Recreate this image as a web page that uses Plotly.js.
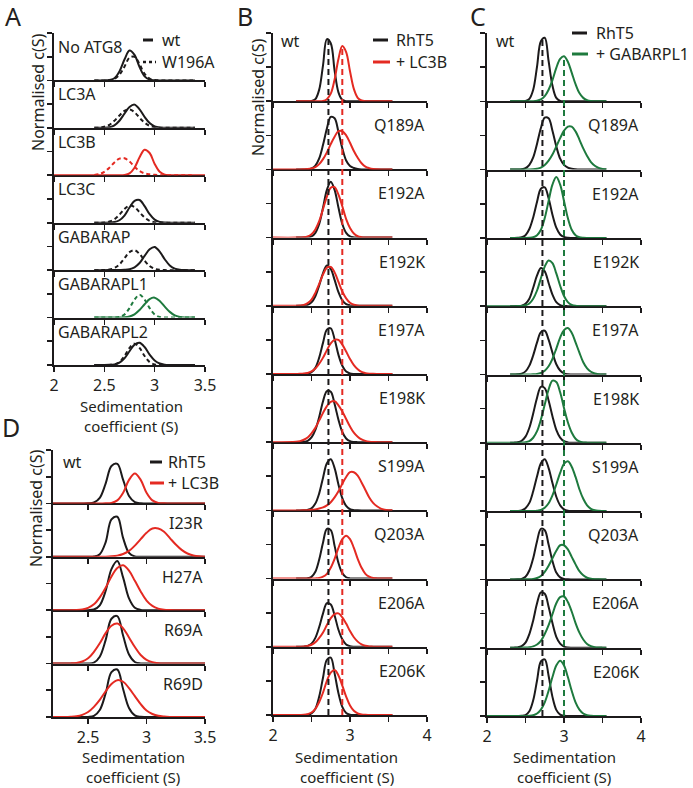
<!DOCTYPE html>
<html><head><meta charset="utf-8">
<script src="https://cdn.plot.ly/plotly-3.0.1.min.js"></script>
<style>html,body{margin:0;padding:0;background:#fff}#chart{width:693px;height:788px}</style>
</head><body><div id="chart"></div>
<script>
// ---------------- DATA ----------------
// sample positions (S)
const gridA = [2.0,2.40,2.45,2.50,2.55,2.60,2.65,2.70,2.75,2.80,2.85,2.90,2.95,3.00,3.05,3.10,3.15,3.20,3.25,3.30,3.35,3.40,3.5];
const gridBC = [2.0,2.30,2.35,2.40,2.45,2.50,2.55,2.60,2.65,2.70,2.75,2.80,2.85,2.90,2.95,3.00,3.05,3.10,3.15,3.20,3.25,3.30,3.35,3.40,3.45,3.50,3.55,4.0];
const gridD = [2.20,2.25,2.30,2.35,2.40,2.45,2.50,2.55,2.60,2.65,2.70,2.75,2.80,2.85,2.90,2.95,3.00,3.05,3.10,3.15,3.20,3.25,3.30,3.35,3.40,3.45,3.50];

// Panel A: wt (solid) and W196A (dashed), normalised c(S)
const labelsA = ['No ATG8','LC3A','LC3B','LC3C','GABARAP','GABARAPL1','GABARAPL2'];
const aWt1 = [null,0,0,0.001,0.007,0.047,0.19,0.44,0.63,0.54,0.28,0.086,0.016,0.002,0,0,0,0,0,0,0,0,null];
const aMu1 = [null,0,0,0.001,0.005,0.03,0.12,0.29,0.48,0.50,0.34,0.14,0.04,0.007,0.001,0,0,0,0,0,0,0,null];
const aWt2 = [null,0,0,0.003,0.014,0.053,0.15,0.30,0.44,0.49,0.39,0.23,0.10,0.032,0.007,0.001,0,0,0,0,0,0,null];
const aMu2 = [null,0.001,0.006,0.022,0.064,0.15,0.26,0.36,0.39,0.33,0.21,0.11,0.043,0.013,0.003,0.001,0,0,0,0,0,0,null];
const aWt3 = [0,0,0,0,0,0,0.001,0.006,0.04,0.16,0.38,0.54,0.47,0.24,0.074,0.014,0.002,0,0,0,0,0,0];
const aMu3 = [null,0.007,0.026,0.073,0.16,0.27,0.35,0.36,0.29,0.18,0.09,0.04,0.02,0.01,0.003,0,0,0,0,0,0,0,null];
const aWt4 = [null,0,0,0,0.002,0.013,0.052,0.15,0.32,0.46,0.48,0.35,0.18,0.066,0.017,0.003,0,0,0,0,0,0,null];
const aMu4 = [null,0,0.001,0.005,0.024,0.074,0.17,0.29,0.36,0.33,0.22,0.11,0.04,0.01,0.002,0,0,0,0,0,0,0,null];
const aWt5 = [null,0,0,0,0.001,0.003,0.005,0.008,0.02,0.06,0.15,0.30,0.44,0.49,0.39,0.23,0.10,0.032,0.007,0.001,0,0,null];
const aMu5 = [null,0,0,0.003,0.012,0.045,0.12,0.25,0.38,0.42,0.34,0.20,0.086,0.028,0.006,0.001,0,0,0,0,0,0,null];
const aWt6 = [null,0,0,0,0,0.001,0.001,0.006,0.024,0.069,0.16,0.28,0.39,0.42,0.35,0.23,0.12,0.046,0.014,0.003,0.001,0,null];
const aMu6 = [null,0,0,0,0,0.002,0.013,0.065,0.20,0.38,0.48,0.38,0.20,0.065,0.013,0.002,0,0,0,0,0,0,null];
const aWt7 = [null,0,0,0,0.003,0.013,0.05,0.14,0.29,0.43,0.47,0.38,0.22,0.096,0.031,0.007,0.001,0,0,0,0,0,null];
const aMu7 = [null,0,0,0,0.002,0.012,0.06,0.19,0.36,0.45,0.36,0.19,0.06,0.012,0.002,0,0,0,0,0,0,0,null];

// Panel B: RhT5 alone and + LC3B
const labelsB = ['wt','Q189A','E192A','E192K','E197A','E198K','S199A','Q203A','E206A','E206K'];
const bRh1 = [null,0,0,0,0,0.003,0.03,0.17,0.53,0.91,0.85,0.45,0.13,0.02,0,0,0,0,0,0,0,0,0,0,0,0,0,null];
const bLc1 = [null,0,0,0,0,0,0,0,0.004,0.03,0.11,0.32,0.62,0.81,0.72,0.44,0.18,0.05,0.01,0,0,0,0,0,0,0,0,null];
const bRh2 = [null,0,0,0,0.002,0.014,0.054,0.16,0.36,0.60,0.77,0.75,0.55,0.31,0.13,0.05,0.02,0.005,0,0,0,0,0,0,0,0,0,null];
const bLc2 = [0,0,0,0.002,0.005,0.014,0.035,0.077,0.15,0.25,0.37,0.48,0.56,0.56,0.50,0.39,0.27,0.17,0.09,0.04,0.018,0.006,0.002,0,0,0,0,null];
const bRh3 = [null,0,0,0,0.003,0.017,0.07,0.20,0.44,0.70,0.82,0.70,0.44,0.20,0.07,0.017,0.003,0,0,0,0,0,0,0,0,0,0,null];
const bLc3 = [0,0,0.002,0.005,0.017,0.05,0.12,0.24,0.42,0.60,0.73,0.74,0.63,0.46,0.27,0.14,0.06,0.02,0.007,0.002,0,0,0,0,0,0,0,null];
const bRh4 = [null,0,0,0.003,0.014,0.05,0.14,0.30,0.48,0.59,0.54,0.38,0.20,0.08,0.024,0.006,0.001,0,0,0,0,0,0,0,0,0,0,null];
const bLc4 = [0,0.001,0.004,0.013,0.04,0.09,0.19,0.32,0.46,0.56,0.57,0.49,0.35,0.21,0.11,0.046,0.016,0.005,0.001,0,0,0,0,0,0,0,0,null];
const bRh5 = [null,0,0,0.001,0.006,0.026,0.09,0.24,0.46,0.65,0.67,0.51,0.28,0.12,0.035,0.008,0.001,0,0,0,0,0,0,0,0,0,0,null];
const bLc5 = [0,0.001,0.002,0.006,0.016,0.037,0.08,0.15,0.24,0.35,0.45,0.50,0.50,0.43,0.33,0.22,0.13,0.07,0.03,0.013,0.005,0.002,0,0,0,0,0,null];
const bRh6 = [null,0,0.001,0.005,0.02,0.07,0.18,0.37,0.60,0.75,0.74,0.56,0.33,0.15,0.055,0.015,0.003,0.001,0,0,0,0,0,0,0,0,0,null];
const bLc6 = [0,0.007,0.016,0.036,0.07,0.13,0.21,0.32,0.43,0.53,0.59,0.60,0.54,0.45,0.34,0.23,0.14,0.08,0.04,0.019,0.008,0.003,0.001,0,0,0,0,null];
const bRh7 = [null,0,0,0.002,0.008,0.03,0.10,0.25,0.48,0.69,0.75,0.62,0.38,0.18,0.065,0.018,0.004,0.001,0,0,0,0,0,0,0,0,0,null];
const bLc7 = [0,0,0,0.002,0.004,0.008,0.015,0.027,0.045,0.075,0.12,0.19,0.28,0.39,0.49,0.56,0.56,0.51,0.41,0.30,0.19,0.11,0.06,0.027,0.011,0.004,0.001,null];
const bRh8 = [null,0,0,0.001,0.005,0.026,0.10,0.28,0.53,0.73,0.71,0.48,0.23,0.08,0.02,0.003,0,0,0,0,0,0,0,0,0,0,0,null];
const bLc8 = [0,0,0,0,0,0.001,0.003,0.009,0.028,0.07,0.16,0.29,0.45,0.58,0.63,0.58,0.45,0.29,0.16,0.07,0.028,0.009,0.003,0.001,0,0,0,null];
const bRh9 = [null,0,0,0.002,0.012,0.044,0.13,0.29,0.49,0.64,0.62,0.46,0.25,0.11,0.034,0.008,0.001,0,0,0,0,0,0,0,0,0,0,null];
const bLc9 = [0,0,0.001,0.004,0.012,0.03,0.066,0.13,0.21,0.32,0.42,0.48,0.49,0.43,0.34,0.23,0.14,0.076,0.036,0.015,0.005,0.002,0,0,0,0,0,null];
const bRh10 = [null,0,0,0.001,0.003,0.022,0.09,0.27,0.55,0.81,0.84,0.61,0.32,0.12,0.03,0.005,0.001,0,0,0,0,0,0,0,0,0,0,null];
const bLc10 = [0,0,0.001,0.003,0.012,0.036,0.09,0.19,0.33,0.50,0.62,0.66,0.58,0.43,0.27,0.14,0.063,0.024,0.007,0.002,0.001,0,0,0,0,0,0,null];

// Panel C: RhT5 alone and + GABARAPL1
const labelsC = ['wt','Q189A','E192A','E192K','E197A','E198K','S199A','Q203A','E206A','E206K'];
const cRh1 = [null,0,0,0,0,0.004,0.036,0.17,0.51,0.88,0.93,0.59,0.23,0.05,0.007,0.001,0,0,0,0,0,0,0,0,0,0,0,null];
const cGa1 = [null,0,0,0,0,0,0.001,0.002,0.009,0.028,0.075,0.17,0.31,0.49,0.62,0.66,0.58,0.42,0.25,0.12,0.05,0.017,0.005,0.001,0,0,0,null];
const cRh2 = [null,0,0,0.001,0.005,0.02,0.07,0.18,0.38,0.61,0.76,0.75,0.57,0.34,0.16,0.07,0.03,0.012,0.004,0,0,0,0,0,0,0,0,null];
const cGa2 = [null,0,0,0,0,0.001,0.001,0.004,0.013,0.03,0.066,0.13,0.22,0.34,0.46,0.57,0.63,0.63,0.56,0.44,0.31,0.20,0.11,0.057,0.026,0.01,0.004,null];
const cRh3 = [null,0,0,0.002,0.01,0.04,0.13,0.30,0.53,0.72,0.74,0.58,0.34,0.15,0.05,0.014,0.002,0,0,0,0,0,0,0,0,0,0,null];
const cGa3 = [null,0,0,0,0,0,0.002,0.01,0.04,0.12,0.29,0.54,0.78,0.89,0.78,0.54,0.29,0.12,0.04,0.01,0.002,0,0,0,0,0,0,null];
const cRh4 = [null,0,0,0.002,0.008,0.037,0.11,0.27,0.45,0.56,0.51,0.34,0.17,0.06,0.016,0.003,0.001,0,0,0,0,0,0,0,0,0,0,null];
const cGa4 = [0,0.001,0.001,0.002,0.004,0.013,0.04,0.11,0.23,0.41,0.58,0.67,0.63,0.48,0.30,0.15,0.06,0.02,0.005,0.001,0,0,0,0,0,0,0,null];
const cRh5 = [null,0,0.001,0.003,0.013,0.046,0.13,0.28,0.47,0.62,0.64,0.51,0.32,0.15,0.058,0.017,0.004,0.001,0,0,0,0,0,0,0,0,0,null];
const cGa5 = [null,0,0,0,0,0,0.001,0.002,0.007,0.022,0.056,0.12,0.23,0.38,0.54,0.65,0.68,0.61,0.47,0.32,0.18,0.09,0.04,0.015,0.005,0.001,0,null];
const cRh6 = [null,0,0.002,0.008,0.03,0.09,0.22,0.43,0.66,0.82,0.80,0.62,0.39,0.19,0.076,0.023,0.006,0.001,0,0,0,0,0,0,0,0,0,null];
const cGa6 = [0,0.001,0.001,0.002,0.003,0.008,0.026,0.074,0.17,0.34,0.56,0.78,0.91,0.89,0.74,0.51,0.30,0.15,0.06,0.02,0.006,0.002,0,0,0,0,0,null];
const cRh7 = [null,0,0.001,0.002,0.011,0.043,0.12,0.29,0.51,0.70,0.76,0.63,0.41,0.21,0.084,0.026,0.006,0.002,0,0,0,0,0,0,0,0,0,null];
const cGa7 = [null,0,0,0,0,0,0,0.001,0.006,0.018,0.05,0.115,0.23,0.39,0.56,0.69,0.73,0.65,0.50,0.32,0.18,0.084,0.034,0.012,0.004,0.001,0,null];
const cRh8 = [null,0,0,0.002,0.008,0.039,0.13,0.31,0.56,0.74,0.72,0.51,0.27,0.10,0.03,0.006,0.001,0,0,0,0,0,0,0,0,0,0,null];
const cGa8 = [null,0,0,0,0,0.001,0.002,0.007,0.02,0.05,0.11,0.20,0.31,0.42,0.50,0.50,0.44,0.33,0.22,0.12,0.06,0.024,0.009,0.003,0.001,0,0,null];
const cRh9 = [null,0,0.001,0.005,0.022,0.074,0.20,0.40,0.65,0.81,0.79,0.60,0.36,0.16,0.06,0.017,0.003,0,0,0,0,0,0,0,0,0,0,null];
const cGa9 = [null,0,0,0,0.001,0.002,0.007,0.019,0.047,0.10,0.20,0.33,0.49,0.65,0.74,0.75,0.67,0.53,0.36,0.22,0.12,0.055,0.024,0.008,0.003,0.001,0,null];
const cRh10 = [null,0,0,0,0.002,0.014,0.07,0.23,0.52,0.80,0.83,0.59,0.28,0.09,0.02,0.003,0,0,0,0,0,0,0,0,0,0,0,null];
const cGa10 = [0,0,0,0,0,0.001,0.003,0.011,0.036,0.093,0.20,0.37,0.57,0.74,0.81,0.74,0.57,0.37,0.20,0.093,0.036,0.011,0.003,0.001,0,0,0,null];

// Panel D: RhT5 mutants alone and + LC3B
const labelsD = ['wt','I23R','H27A','R69A','R69D'];
const dRh1 = [0,0,0,0,0,0,0.002,0.017,0.105,0.37,0.70,0.74,0.44,0.14,0.025,0.002,0,0,0,0,0,0,0,0,0,0,0];
const dLc1 = [0,0,0,0,0,0,0,0,0,0.001,0.01,0.057,0.20,0.44,0.56,0.44,0.20,0.057,0.01,0.001,0,0,0,0,0,0,0];
const dRh2 = [0,0,0,0,0,0,0,0.004,0.048,0.27,0.70,0.75,0.35,0.073,0.006,0,0,0,0,0,0,0,0,0,0,0,0];
const dLc2 = [0,0,0,0,0,0,0,0,0.001,0.002,0.008,0.022,0.053,0.11,0.21,0.33,0.45,0.53,0.53,0.47,0.35,0.23,0.13,0.062,0.026,0.009,0.003];
const dRh3 = [0,0,0,0,0,0,0.001,0.013,0.092,0.36,0.77,0.92,0.61,0.22,0.045,0.005,0,0,0,0,0,0,0,0,0,0,0];
const dLc3 = [0,0,0,0.001,0.004,0.015,0.045,0.11,0.24,0.42,0.63,0.79,0.84,0.74,0.55,0.35,0.18,0.08,0.03,0.009,0.003,0.001,0,0,0,0,0];
const dRh4 = [0,0,0,0,0,0,0.002,0.02,0.13,0.44,0.84,0.89,0.52,0.17,0.03,0.003,0,0,0,0,0,0,0,0,0,0,0];
const dLc4 = [0,0,0.001,0.004,0.013,0.04,0.10,0.22,0.38,0.57,0.71,0.75,0.66,0.49,0.31,0.16,0.07,0.027,0.008,0.002,0.001,0,0,0,0,0,0];
const dRh5 = [0,0,0,0,0,0,0.002,0.02,0.13,0.44,0.84,0.89,0.52,0.17,0.03,0.003,0,0,0,0,0,0,0,0,0,0,0];
const dLc5 = [0,0,0.001,0.005,0.015,0.04,0.093,0.19,0.32,0.48,0.62,0.69,0.66,0.54,0.39,0.24,0.12,0.057,0.022,0.008,0.002,0.001,0,0,0,0,0];

// axis tick labels
const ticksA = [2,2.5,3,3.5], tickTextA = ['2','2.5','3','3.5'];
const ticksBC = [2,2.5,3,3.5,4], tickTextBC = ['2','','3','','4'];
const ticksD = [2.5,3,3.5], tickTextD = ['2.5','3','3.5'];
// reference peak positions marked with dashed lines
const refB = [2.72, 2.90];
const refC = [2.72, 3.00];

// ---------------- DRAWING ----------------
const W = 693, H = 788;
const BLACK = '#1c1a1b', RED = '#e42a22', GREEN = '#1e7a3e', TXT = '#231f20';
const FONT = 'Noto Sans, Open Sans, sans-serif';
const X = p => p / W, Y = p => 1 - p / H;

const layout = {
  width: W, height: H, margin: {l:0, r:0, t:0, b:0},
  paper_bgcolor: '#fff', plot_bgcolor: 'rgba(0,0,0,0)', showlegend: false,
  font: {family: FONT, size: 16, color: TXT},
  annotations: [], shapes: []
};
const traces = [];
let nAx = 0;

function ann(text, px, py, xanchor, extra) {
  layout.annotations.push(Object.assign({text: text, x: X(px), y: Y(py), xref: 'paper', yref: 'paper',
    xanchor: xanchor || 'center', yanchor: 'middle', showarrow: false, borderpad: 0,
    font: {family: FONT, size: 16, color: TXT}}, extra || {}));
}
function seg(x0, x1, py, color, width, dash) {
  layout.shapes.push({type: 'line', xref: 'paper', yref: 'paper', x0: X(x0), x1: X(x1), y0: Y(py), y1: Y(py),
    line: {color: color, width: width, dash: dash || 'solid'}});
}

function panel(p) {
  const h = (p.bottom - p.top) / p.rows.length;
  let firstId = null;
  p.rows.forEach((row, i) => {
    nAx++;
    const id = nAx === 1 ? '' : String(nAx);
    if (firstId === null) firstId = id;
    const last = i === p.rows.length - 1;
    layout['xaxis' + id] = {
      domain: [X(p.left), X(p.right)], range: p.xrange, anchor: 'y' + id,
      showline: true, linecolor: BLACK, linewidth: 2, layer: 'below traces',
      ticks: 'outside', ticklen: 5, tickwidth: 1.6, tickcolor: BLACK,
      tickmode: 'array', tickvals: p.tickvals, ticktext: p.ticktext, showticklabels: last,
      tickfont: {family: FONT, size: 16, color: TXT},
      showgrid: false, zeroline: false, fixedrange: true
    };
    layout['yaxis' + id] = {
      domain: [Y(p.top + (i + 1) * h), Y(p.top + i * h)], range: [0, 1], anchor: 'x' + id,
      showline: true, linecolor: BLACK, linewidth: 2, layer: 'below traces',
      ticks: 'outside', ticklen: 5, tickwidth: 1.6, tickcolor: BLACK,
      tickmode: 'array', tickvals: [0, 0.5, 1], showticklabels: false,
      showgrid: false, zeroline: false, fixedrange: true
    };
    row.curves.forEach(c => traces.push({
      type: 'scatter', mode: 'lines', x: p.grid, y: c.y, xaxis: 'x' + id, yaxis: 'y' + id,
      line: {color: c.color, width: 2, shape: 'spline', smoothing: 1, dash: c.dash || 'solid'},
      cliponaxis: false, connectgaps: false, hoverinfo: 'skip'
    }));
    const rowTop = p.top + i * h;
    if (p.labelMode === 'left' || i === 0) {
      ann(row.label, p.labelLeft, rowTop + p.firstLabelDy, 'left');
    } else {
      ann(row.label, p.right - 1, rowTop + p.labelDy, 'right');
    }
  });
  return firstId;
}

// Panel A
const aPairs = [[aWt1,aMu1,BLACK],[aWt2,aMu2,BLACK],[aWt3,aMu3,RED],[aWt4,aMu4,BLACK],[aWt5,aMu5,BLACK],[aWt6,aMu6,GREEN],[aWt7,aMu7,BLACK]];
panel({left: 54, right: 205, top: 33, bottom: 365, xrange: [2, 3.5], grid: gridA,
  tickvals: ticksA, ticktext: tickTextA, labelMode: 'left', labelLeft: 57, firstLabelDy: 14,
  rows: labelsA.map((lab, i) => ({label: lab, curves: [
    {y: aPairs[i][1], color: aPairs[i][2], dash: '4px,3px'},
    {y: aPairs[i][0], color: aPairs[i][2]}]}))});

// Panel B
const bPairs = [[bRh1,bLc1],[bRh2,bLc2],[bRh3,bLc3],[bRh4,bLc4],[bRh5,bLc5],[bRh6,bLc6],[bRh7,bLc7],[bRh8,bLc8],[bRh9,bLc9],[bRh10,bLc10]];
const bId = panel({left: 273, right: 427, top: 33, bottom: 715, xrange: [2, 4], grid: gridBC,
  tickvals: ticksBC, ticktext: tickTextBC, labelMode: 'right', labelLeft: 280, firstLabelDy: 8, labelDy: 24,
  rows: labelsB.map((lab, i) => ({label: lab, curves: [
    {y: bPairs[i][0], color: BLACK}, {y: bPairs[i][1], color: RED}]}))});

// Panel C
const cPairs = [[cRh1,cGa1],[cRh2,cGa2],[cRh3,cGa3],[cRh4,cGa4],[cRh5,cGa5],[cRh6,cGa6],[cRh7,cGa7],[cRh8,cGa8],[cRh9,cGa9],[cRh10,cGa10]];
const cId = panel({left: 487, right: 641, top: 33, bottom: 716, xrange: [2, 4], grid: gridBC,
  tickvals: ticksBC, ticktext: tickTextBC, labelMode: 'right', labelLeft: 495, firstLabelDy: 8, labelDy: 24,
  rows: labelsC.map((lab, i) => ({label: lab, curves: [
    {y: cPairs[i][0], color: BLACK}, {y: cPairs[i][1], color: GREEN}]}))});

// Panel D
const dPairs = [[dRh1,dLc1],[dRh2,dLc2],[dRh3,dLc3],[dRh4,dLc4],[dRh5,dLc5]];
panel({left: 53, right: 205, top: 450, bottom: 717, xrange: [2.2, 3.5], grid: gridD,
  tickvals: ticksD, ticktext: tickTextD, labelMode: 'right', labelLeft: 62, firstLabelDy: 12, labelDy: 20,
  rows: labelsD.map((lab, i) => ({label: lab, curves: [
    {y: dPairs[i][0], color: BLACK}, {y: dPairs[i][1], color: RED}]}))});

// dashed reference lines
function vline(axId, xv, pyTop, pyBot, color) {
  layout.shapes.push({type: 'line', xref: 'x' + axId, yref: 'paper', x0: xv, x1: xv, y0: Y(pyBot), y1: Y(pyTop),
    line: {color: color, width: 2, dash: '6px,4px'}});
}
vline(bId, refB[0], 36, 715, BLACK);
vline(bId, refB[1], 45, 715, RED);
vline(cId, refC[0], 36, 716, BLACK);
vline(cId, refC[1], 57, 716, GREEN);

// panel letters
ann('A', 13, 16, 'center', {font: {family: FONT, size: 25, color: TXT}});
ann('B', 245, 16, 'center', {font: {family: FONT, size: 25, color: TXT}});
ann('C', 478, 16, 'center', {font: {family: FONT, size: 25, color: TXT}});
ann('D', 11, 427, 'center', {font: {family: FONT, size: 25, color: TXT}});

// y titles
ann('Normalised c(S)', 38, 92, 'center', {textangle: -90});
ann('Normalised c(S)', 258, 97, 'center', {textangle: -90});
ann('Normalised c(S)', 36, 508, 'center', {textangle: -90});

// x titles
const tf = {font: {family: FONT, size: 15, color: TXT}};
function xTitle(cx, y1, y2) {
  ann('Sedimentation', cx, y1, 'center', tf);
  ann('coefficient (S)', cx, y2, 'center', tf);
}
xTitle(131, 405.5, 426);
xTitle(347, 756.5, 777);
xTitle(564, 756.5, 777);
xTitle(133, 756.5, 777);

// legends
seg(143, 153, 40, BLACK, 3); ann('wt', 161, 40, 'left');
seg(143, 156, 62, BLACK, 2.5, 'dot'); ann('W196A', 161, 62, 'left');
seg(373, 388, 40, BLACK, 3); ann('RhT5', 395, 40, 'left');
seg(373, 390, 62, RED, 3); ann('+ LC3B', 395, 62, 'left');
seg(572, 587, 33, BLACK, 3); ann('RhT5', 595, 33, 'left');
seg(572, 588, 54, GREEN, 3); ann('+ GABARPL1', 595, 54, 'left');
seg(150, 162, 462, BLACK, 3); ann('RhT5', 167, 462, 'left');
seg(150, 164, 483, RED, 3); ann('+ LC3B', 167, 483, 'left');

Plotly.newPlot('chart', traces, layout, {staticPlot: true, displayModeBar: false});
</script>
</body></html>
